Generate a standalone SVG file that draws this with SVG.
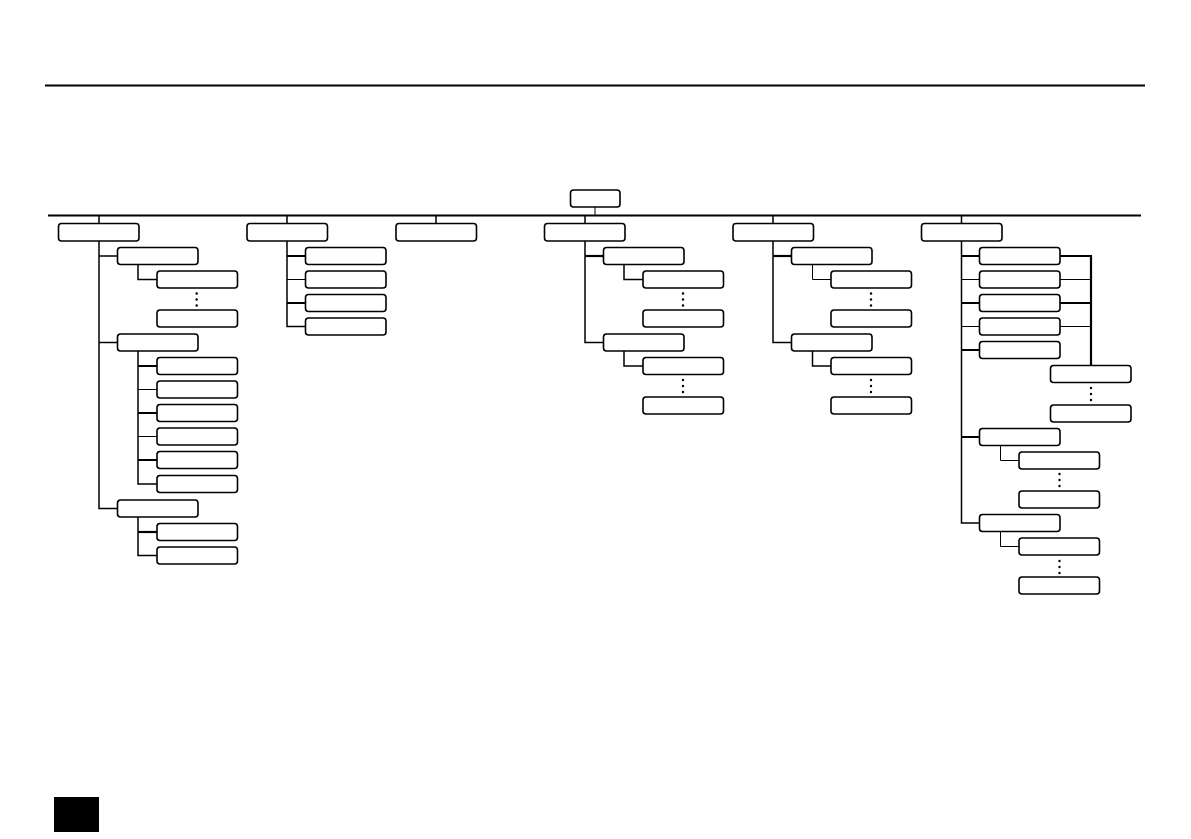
<svg xmlns="http://www.w3.org/2000/svg" width="1191" height="839" viewBox="0 0 1191 839">
<style>
.b{fill:#fff;stroke:#000;stroke-width:1.6}
.c{fill:none;stroke:#000;stroke-width:1.5}
.k{fill:none;stroke:#000;stroke-width:2.2}
.t{fill:none;stroke:#000;stroke-width:1}
.d{fill:#000}
</style>
<defs>
<rect id="bx" width="80.5" height="17" rx="3" class="b"/>
<g id="dots"><circle cx="0" cy="0" r="1.2" class="d"/><circle cx="0" cy="6" r="1.2" class="d"/><circle cx="0" cy="12" r="1.2" class="d"/></g>
</defs>
<rect x="0" y="0" width="1191" height="839" fill="#fff"/>
<line x1="45" y1="85.5" x2="1145" y2="85.5" stroke="#000" stroke-width="2"/>
<rect x="54" y="797" width="45" height="35" fill="#000"/>
<g id="connectors">
<line x1="595" y1="207" x2="595" y2="215" class="t"/>
<line x1="48" y1="215.5" x2="1141" y2="215.5" stroke="#000" stroke-width="2"/>
<path class="c" d="M99 215.5V223.5M287 215.5V223.5M436 215.5V223.5M585 215.5V223.5M773 215.5V223.5M961.5 215.5V223.5"/>
<path class="c" d="M99 241V508.5H117.5M99 256H117.5M99 342.5H117.5"/>
<path class="c" d="M138 264.5V279.5H157"/>
<path class="c" d="M138 351V484H157"/>
<path class="k" d="M138 366H157M138 413H157M138 460H157"/>
<path class="t" d="M138 389.5H157M138 436.5H157"/>
<path class="c" d="M138 517V555.5H157"/>
<path class="k" d="M138 532H157"/>
<path class="c" d="M287 241V326.5H305.5"/>
<path class="k" d="M287 256H305.5M287 303H305.5"/>
<path class="t" d="M287 279.5H305.5"/>
<path class="c" d="M585 241V342.5H603.5"/>
<path class="k" d="M585 256H603.5"/>
<path class="c" d="M624 264.5V279.5H643M624 351V366H643"/>
<path class="c" d="M773 241V342.5H791.5"/>
<path class="k" d="M773 256H791.5"/>
<path class="t" d="M812.5 264.5V279.5H831"/>
<path class="c" d="M812.5 351V366H831"/>
<path class="c" d="M961.5 241V523H979.5"/>
<path class="k" d="M961.5 256H979.5M961.5 303H979.5M961.5 350H979.5M961.5 437H979.5"/>
<path class="t" d="M961.5 279.5H979.5M961.5 326.5H979.5"/>
<path class="t" d="M1000.5 445.5V460.5H1019M1000.5 531.5V546.5H1019"/>
<path class="k" d="M1060 256H1091V365.5M1060 303H1091"/>
<path class="t" d="M1060 279.5H1091M1060 326.5H1091"/>
</g>
<g id="dotgroups">
<use href="#dots" x="196.7" y="293.5"/>
<use href="#dots" x="683" y="293.5"/>
<use href="#dots" x="683" y="380"/>
<use href="#dots" x="871" y="293.5"/>
<use href="#dots" x="871" y="380"/>
<use href="#dots" x="1091" y="388"/>
<use href="#dots" x="1059.5" y="474"/>
<use href="#dots" x="1059.5" y="561"/>
</g>
<g id="root"><rect x="570.5" y="190" width="49.5" height="17" rx="3" class="b"/></g>
<g id="n1"><rect x="58.5" y="223.5" width="80.5" height="17.5" rx="3" class="b"/></g>
<g id="n2"><rect x="247" y="223.5" width="80.5" height="17.5" rx="3" class="b"/></g>
<g id="n3"><rect x="396" y="223.5" width="80.5" height="17.5" rx="3" class="b"/></g>
<g id="n4"><rect x="544.5" y="223.5" width="80.5" height="17.5" rx="3" class="b"/></g>
<g id="n5"><rect x="733" y="223.5" width="80.5" height="17.5" rx="3" class="b"/></g>
<g id="n6"><rect x="921.5" y="223.5" width="80.5" height="17.5" rx="3" class="b"/></g>
<g id="n1a"><use href="#bx" x="117.5" y="247.5"/></g>
<g id="n1a1"><use href="#bx" x="157" y="271"/></g>
<g id="n1a2"><use href="#bx" x="157" y="310"/></g>
<g id="n1b"><use href="#bx" x="117.5" y="334"/></g>
<g id="n1b1"><use href="#bx" x="157" y="357.5"/></g>
<g id="n1b2"><use href="#bx" x="157" y="381"/></g>
<g id="n1b3"><use href="#bx" x="157" y="404.5"/></g>
<g id="n1b4"><use href="#bx" x="157" y="428"/></g>
<g id="n1b5"><use href="#bx" x="157" y="451.5"/></g>
<g id="n1b6"><use href="#bx" x="157" y="475.5"/></g>
<g id="n1c"><use href="#bx" x="117.5" y="500"/></g>
<g id="n1c1"><use href="#bx" x="157" y="523.5"/></g>
<g id="n1c2"><use href="#bx" x="157" y="547"/></g>
<g id="n2a"><use href="#bx" x="305.5" y="247.5"/></g>
<g id="n2b"><use href="#bx" x="305.5" y="271"/></g>
<g id="n2c"><use href="#bx" x="305.5" y="294.5"/></g>
<g id="n2d"><use href="#bx" x="305.5" y="318"/></g>
<g id="n4a"><use href="#bx" x="603.5" y="247.5"/></g>
<g id="n4a1"><use href="#bx" x="643" y="271"/></g>
<g id="n4a2"><use href="#bx" x="643" y="310"/></g>
<g id="n4b"><use href="#bx" x="603.5" y="334"/></g>
<g id="n4b1"><use href="#bx" x="643" y="357.5"/></g>
<g id="n4b2"><use href="#bx" x="643" y="397"/></g>
<g id="n5a"><use href="#bx" x="791.5" y="247.5"/></g>
<g id="n5a1"><use href="#bx" x="831" y="271"/></g>
<g id="n5a2"><use href="#bx" x="831" y="310"/></g>
<g id="n5b"><use href="#bx" x="791.5" y="334"/></g>
<g id="n5b1"><use href="#bx" x="831" y="357.5"/></g>
<g id="n5b2"><use href="#bx" x="831" y="397"/></g>
<g id="n6a"><use href="#bx" x="979.5" y="247.5"/></g>
<g id="n6b"><use href="#bx" x="979.5" y="271"/></g>
<g id="n6c"><use href="#bx" x="979.5" y="294.5"/></g>
<g id="n6d"><use href="#bx" x="979.5" y="318"/></g>
<g id="n6e"><use href="#bx" x="979.5" y="341.5"/></g>
<g id="n6x1"><use href="#bx" x="1050.5" y="365.5"/></g>
<g id="n6x2"><use href="#bx" x="1050.5" y="405"/></g>
<g id="n6f"><use href="#bx" x="979.5" y="428.5"/></g>
<g id="n6f1"><use href="#bx" x="1019" y="452"/></g>
<g id="n6f2"><use href="#bx" x="1019" y="491"/></g>
<g id="n6g"><use href="#bx" x="979.5" y="514.5"/></g>
<g id="n6g1"><use href="#bx" x="1019" y="538"/></g>
<g id="n6g2"><use href="#bx" x="1019" y="577"/></g>
</svg>
